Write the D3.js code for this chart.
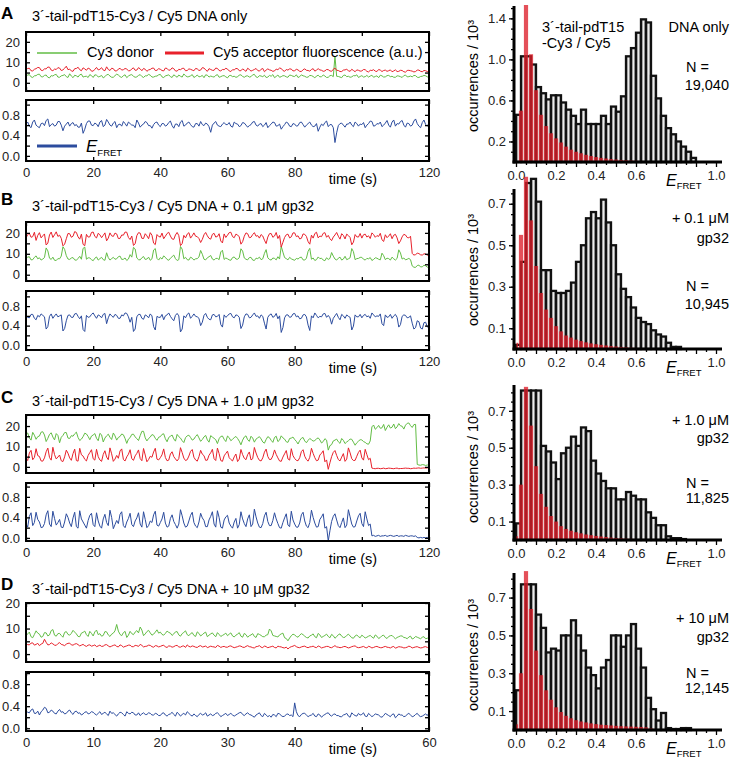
<!DOCTYPE html>
<html><head><meta charset="utf-8">
<script src="https://cdn.jsdelivr.net/npm/d3@7"></script>
<style>body{margin:0;background:#fff}svg{display:block}</style>
</head><body><svg width="731" height="759"></svg>
<script>
// ---------------- DATA ----------------
// Time traces (A,B,C: 0..120 s ; D: 0..60 s), 241 equally spaced samples
const greenA=[3.1,3.8,4.0,2.9,2.6,3.4,3.5,4.1,4.2,3.0,2.9,3.6,3.8,2.7,2.4,3.5,3.3,3.9,4.1,2.8,
2.7,3.4,3.6,4.0,3.0,2.6,4.4,3.3,2.5,3.7,3.4,2.8,3.9,4.2,2.8,3.1,3.2,2.6,4.0,3.5,
2.6,3.9,3.7,2.9,3.1,3.6,2.4,3.0,3.9,4.1,3.3,2.7,2.7,3.5,4.2,3.8,3.0,2.6,3.5,3.9,
2.5,3.3,3.8,4.0,3.2,2.7,2.9,3.6,4.0,3.1,2.6,3.4,3.4,4.1,3.7,2.8,2.8,3.2,3.3,3.9,
4.1,2.9,2.5,3.4,3.6,3.9,3.0,2.6,3.9,3.3,2.7,3.8,3.2,2.8,4.3,3.5,2.9,3.0,3.4,4.0,
2.6,3.1,3.8,2.9,3.1,3.6,2.5,3.9,3.7,2.8,3.3,3.0,2.8,3.6,4.0,2.7,3.0,3.4,3.5,2.9,
2.4,3.5,3.6,3.0,3.2,2.7,2.9,3.8,3.9,3.1,2.7,3.3,3.4,2.8,3.0,3.9,4.1,2.9,2.6,3.5,
3.3,3.0,3.7,2.6,2.8,3.6,3.2,4.0,2.5,3.1,3.8,2.7,3.0,3.5,3.4,2.9,2.7,3.8,3.6,3.2,
3.1,3.9,2.6,3.0,3.9,3.4,3.2,2.7,2.8,3.6,3.5,3.1,2.4,3.3,3.7,2.9,3.0,3.8,3.3,2.6,
2.7,3.5,3.6,3.0,13.0,3.2,3.1,2.8,2.5,3.6,3.8,3.0,3.2,2.7,2.9,3.5,3.4,3.9,2.6,3.1,
3.5,2.8,3.0,3.6,2.8,3.3,3.7,2.7,3.1,3.4,2.5,3.7,3.4,2.8,2.9,3.5,3.6,3.0,3.2,2.7,
2.7,3.4,3.3,3.0,2.6,3.5,3.8,2.9,3.0,3.3,2.9,3.6,3.5,2.7,2.6,3.1,3.2,3.6,3.4,2.9,2.8];
const redA=[6.2,7.0,7.1,5.9,5.8,6.6,6.9,7.5,7.4,6.1,6.0,6.8,6.8,7.7,7.6,6.2,5.9,6.7,6.5,7.4,
7.2,6.0,6.3,7.1,8.1,6.4,6.7,5.8,5.6,6.9,7.0,7.6,6.4,5.9,7.3,6.8,6.1,7.2,6.8,5.7,
5.7,6.6,7.5,6.3,6.6,7.4,6.2,5.9,7.8,6.5,6.0,7.1,6.9,5.8,5.8,6.7,7.1,6.2,6.4,7.0,
6.7,5.9,5.9,6.8,7.3,6.1,6.2,7.4,6.8,5.9,7.0,6.6,5.6,6.3,6.5,7.1,7.2,6.0,6.1,6.9,
6.6,6.0,5.8,7.2,7.0,6.1,6.3,7.3,6.9,5.8,5.7,6.6,6.4,7.0,7.1,5.9,6.0,6.8,6.6,6.2,
5.9,7.0,6.8,6.0,6.2,7.4,7.2,6.3,5.6,6.9,6.5,6.1,6.1,7.2,7.0,6.0,5.8,6.5,6.4,7.1,
6.7,5.8,5.5,6.4,6.3,7.0,6.9,5.9,5.9,6.8,6.2,5.6,7.1,6.5,5.7,6.1,6.5,7.0,6.0,5.7,
6.6,7.0,5.4,6.2,6.8,6.3,6.1,5.6,5.8,6.7,6.4,7.2,7.0,6.0,5.6,6.5,6.2,6.8,6.7,5.8,
5.9,6.6,6.3,5.6,5.5,6.4,6.8,6.1,6.0,5.7,6.5,6.9,5.7,6.2,6.9,6.3,6.1,5.6,5.8,6.5,
6.4,5.8,5.6,6.6,7.2,6.1,6.0,5.5,5.5,6.2,6.3,6.6,5.9,5.6,6.6,6.0,5.4,6.3,6.1,5.7,
5.8,6.5,6.4,5.6,5.3,6.1,6.0,6.4,5.7,5.5,6.5,6.2,5.5,6.0,6.2,5.6,5.9,6.3,5.4,5.8,
6.3,5.5,5.6,6.1,6.0,5.4,5.2,6.0,6.1,5.9,5.7,5.3,5.5,6.2,6.2,5.6,5.4,6.0,5.9,5.5,5.6];
const effA=[0.62,0.66,0.58,0.55,0.66,0.70,0.60,0.57,0.55,0.63,0.64,0.59,0.69,0.72,0.57,0.61,0.63,0.58,0.60,0.67,
0.67,0.60,0.49,0.58,0.62,0.66,0.58,0.63,0.65,0.59,0.61,0.56,0.56,0.64,0.44,0.52,0.63,0.68,0.68,0.60,
0.59,0.64,0.62,0.57,0.66,0.69,0.57,0.60,0.71,0.66,0.60,0.58,0.64,0.67,0.55,0.61,0.62,0.58,0.67,0.63,
0.58,0.66,0.63,0.60,0.60,0.55,0.70,0.64,0.56,0.60,0.62,0.67,0.65,0.59,0.59,0.54,0.61,0.65,0.66,0.60,
0.57,0.63,0.63,0.58,0.60,0.65,0.68,0.59,0.54,0.62,0.62,0.57,0.66,0.69,0.58,0.60,0.64,0.66,0.61,0.57,
0.56,0.63,0.63,0.58,0.67,0.61,0.59,0.64,0.62,0.57,0.46,0.60,0.64,0.67,0.60,0.58,0.57,0.62,0.65,0.61,
0.61,0.65,0.58,0.56,0.66,0.63,0.62,0.57,0.59,0.65,0.64,0.60,0.56,0.59,0.61,0.66,0.67,0.60,0.58,0.62,
0.63,0.57,0.60,0.65,0.55,0.59,0.62,0.66,0.65,0.58,0.59,0.62,0.52,0.57,0.61,0.66,0.64,0.58,0.57,0.63,
0.62,0.58,0.59,0.65,0.66,0.61,0.56,0.60,0.63,0.66,0.60,0.57,0.58,0.63,0.48,0.56,0.62,0.59,0.65,0.68,
0.57,0.61,0.61,0.55,0.26,0.45,0.59,0.63,0.64,0.60,0.56,0.62,0.62,0.66,0.60,0.57,0.66,0.63,0.58,0.62,
0.61,0.65,0.55,0.60,0.63,0.68,0.67,0.58,0.59,0.63,0.62,0.66,0.57,0.60,0.64,0.69,0.60,0.56,0.66,0.70,
0.58,0.63,0.62,0.67,0.69,0.60,0.56,0.64,0.63,0.58,0.60,0.68,0.72,0.63,0.58,0.55,0.65,0.70,0.61,0.58,0.64];

const greenB=[7.8,8.4,8.6,7.1,7.2,8.3,9.0,7.6,8.1,7.0,7.5,8.2,12.8,11.4,7.9,7.3,8.4,6.9,6.8,7.7,
7.6,8.9,13.4,12.1,9.1,7.5,7.3,8.0,8.2,7.1,6.9,7.8,8.8,7.4,12.6,13.2,7.4,8.1,8.0,7.2,
6.7,7.9,8.5,7.0,7.7,8.3,7.2,6.9,10.5,8.2,7.0,7.7,8.3,7.4,7.6,8.6,8.9,7.3,7.4,8.0,
6.8,7.5,9.6,8.4,13.1,12.3,8.0,7.2,7.1,8.1,8.7,7.3,7.5,8.4,6.9,7.6,11.8,12.5,7.8,7.0,
8.2,7.5,9.0,8.3,7.3,6.9,7.9,8.6,9.4,7.7,6.8,7.2,13.5,12.2,7.6,8.3,7.2,7.0,8.4,7.9,
7.0,7.6,7.7,8.5,11.6,9.8,7.4,7.1,8.1,8.6,9.2,7.5,7.0,7.8,7.8,7.2,10.9,11.7,7.3,8.0,
7.6,7.1,6.9,8.2,8.5,7.5,7.4,8.1,12.4,11.3,8.0,7.4,7.1,8.2,8.3,7.0,6.8,7.9,7.7,8.4,
7.2,7.6,10.2,12.0,8.1,7.3,7.0,8.0,7.8,7.1,8.6,7.5,13.6,10.8,8.2,7.7,7.1,8.3,7.6,7.2,
6.9,7.8,7.5,8.2,8.4,7.1,7.0,7.9,11.2,12.6,7.4,8.0,6.8,7.2,8.5,7.7,7.9,7.0,6.7,8.1,
7.3,7.8,10.6,8.9,7.5,7.0,7.9,8.4,7.0,7.5,8.8,7.2,7.6,8.1,12.5,11.0,7.2,7.7,7.8,8.3,
8.3,7.4,7.0,7.8,7.6,8.2,6.8,7.3,8.1,7.9,7.4,7.1,10.3,9.1,7.2,7.9,7.7,7.0,8.4,7.6,
7.0,7.8,11.9,10.4,7.5,8.0,7.1,7.4,7.8,7.2,4.2,3.6,3.5,4.4,4.6,3.7,3.8,4.5,4.3,3.6,3.9];
const redB=[17.5,19.2,19.8,17.9,18.2,20.3,16.4,18.8,20.1,17.6,18.6,19.5,14.2,15.1,19.0,20.4,17.8,19.1,20.5,18.3,
18.9,17.4,13.8,14.6,17.2,19.7,19.6,17.9,18.4,20.6,20.2,18.1,17.0,19.4,14.5,13.9,19.3,18.0,18.1,20.2,
20.4,18.3,17.6,19.8,19.1,17.7,18.8,20.0,16.2,17.5,20.0,18.6,18.3,19.9,19.5,17.3,17.4,19.0,18.9,20.4,
20.3,17.8,16.8,18.5,14.0,14.8,18.7,20.1,19.9,17.4,17.3,19.6,18.6,17.2,20.1,18.9,15.1,14.4,19.2,18.3,
18.0,19.9,17.2,18.4,19.7,20.3,18.5,17.1,16.9,19.0,20.2,18.7,13.9,14.9,18.8,17.6,19.4,20.1,17.5,18.6,
20.0,18.4,18.2,17.3,15.4,16.9,19.1,20.2,18.6,17.4,17.0,19.3,19.8,18.0,18.3,19.6,16.1,15.2,19.5,17.8,
18.9,20.1,20.3,18.2,17.7,19.4,19.0,18.1,14.6,15.8,18.4,20.0,19.6,17.7,17.9,19.2,20.1,18.4,18.7,17.5,
19.2,18.5,16.5,14.9,18.0,19.6,19.7,17.9,18.5,20.2,17.3,18.8,13.2,15.5,17.8,19.1,19.4,17.6,18.1,20.0,
20.0,18.2,18.6,17.1,17.4,19.5,19.3,18.3,15.8,14.6,18.9,17.5,19.7,20.3,17.6,18.5,18.2,19.8,20.1,17.9,
18.8,17.2,16.3,18.0,19.0,20.2,18.4,17.0,19.6,18.8,17.1,19.4,18.7,17.8,14.3,15.6,19.2,18.1,18.0,19.7,
17.5,19.1,19.4,18.0,18.6,17.3,20.0,19.2,17.9,18.7,18.3,19.8,16.7,15.9,19.1,17.7,18.5,19.6,17.2,18.9,
19.3,17.6,14.9,16.2,18.1,19.3,19.0,17.8,17.6,18.4,10.2,9.4,9.6,10.3,10.1,9.5,9.4,10.0,9.9,9.3,9.7];
const effB=[0.60,0.57,0.56,0.63,0.63,0.55,0.52,0.61,0.58,0.64,0.61,0.58,0.33,0.38,0.59,0.64,0.55,0.60,0.64,0.58,
0.60,0.62,0.29,0.34,0.50,0.61,0.62,0.57,0.57,0.64,0.65,0.59,0.54,0.60,0.32,0.28,0.61,0.57,0.58,0.63,
0.66,0.60,0.55,0.62,0.60,0.56,0.63,0.65,0.44,0.56,0.64,0.60,0.57,0.63,0.61,0.55,0.55,0.62,0.60,0.66,
0.65,0.58,0.47,0.57,0.28,0.33,0.58,0.63,0.63,0.55,0.53,0.62,0.60,0.56,0.64,0.60,0.38,0.31,0.59,0.57,
0.57,0.63,0.52,0.60,0.62,0.66,0.59,0.54,0.50,0.61,0.65,0.60,0.27,0.33,0.60,0.56,0.63,0.66,0.55,0.59,
0.64,0.59,0.58,0.55,0.40,0.47,0.61,0.65,0.57,0.53,0.52,0.62,0.63,0.58,0.59,0.63,0.42,0.37,0.62,0.57,
0.60,0.64,0.65,0.58,0.56,0.62,0.61,0.57,0.34,0.41,0.58,0.64,0.63,0.56,0.57,0.62,0.66,0.59,0.60,0.55,
0.62,0.59,0.45,0.33,0.57,0.62,0.64,0.57,0.59,0.65,0.54,0.60,0.26,0.36,0.56,0.62,0.62,0.57,0.58,0.64,
0.65,0.58,0.60,0.54,0.55,0.62,0.63,0.58,0.41,0.30,0.60,0.56,0.66,0.61,0.56,0.59,0.58,0.64,0.65,0.57,
0.61,0.56,0.43,0.55,0.60,0.65,0.57,0.52,0.63,0.60,0.55,0.62,0.59,0.57,0.31,0.39,0.62,0.58,0.58,0.63,
0.56,0.61,0.63,0.58,0.60,0.55,0.66,0.62,0.58,0.60,0.59,0.64,0.44,0.40,0.62,0.57,0.58,0.63,0.55,0.60,
0.63,0.57,0.37,0.42,0.59,0.62,0.61,0.56,0.57,0.60,0.45,0.33,0.36,0.50,0.48,0.35,0.33,0.46,0.47,0.37,0.39];

const greenC=[15.8,16.6,14.2,13.1,16.9,15.5,13.5,14.8,15.1,17.0,17.2,15.6,12.4,14.0,15.9,16.7,14.6,13.2,16.3,15.4,
11.8,14.5,15.4,16.8,16.8,14.1,13.9,15.3,15.0,16.2,17.0,14.4,12.9,13.6,14.8,16.5,16.1,14.9,13.3,15.1,
15.6,16.3,14.0,12.8,16.4,15.7,12.2,14.1,15.2,16.0,14.5,13.4,16.6,15.2,13.1,14.4,14.9,16.1,15.7,13.9,
11.5,13.6,14.3,15.9,16.0,14.7,13.8,12.9,15.3,17.4,17.4,14.2,12.7,13.9,14.6,15.8,15.5,14.0,13.0,14.5,
14.8,15.9,16.2,13.8,12.3,14.4,15.0,15.6,13.7,12.6,15.9,14.8,14.1,12.8,11.9,14.3,15.2,15.5,14.4,13.1,
13.6,14.9,15.8,14.2,12.5,13.4,14.7,15.4,13.2,12.1,15.3,14.6,14.0,13.3,11.4,13.8,14.9,15.1,13.5,12.4,
15.1,14.3,12.8,13.5,14.3,14.9,13.9,12.6,10.8,13.1,14.6,15.2,13.3,12.5,15.0,14.1,12.1,13.6,14.2,14.8,
13.7,12.2,11.6,13.4,14.8,14.3,13.0,12.0,14.4,15.0,12.4,13.1,15.2,14.2,13.6,12.3,12.0,13.9,14.1,14.6,
13.4,12.5,11.2,12.9,14.0,14.4,12.7,11.8,13.0,13.9,13.3,12.6,12.9,13.7,14.2,13.2,11.7,12.4,13.8,13.1,
8.2,10.4,10.9,12.7,13.1,13.6,12.3,11.5,13.9,13.0,11.4,12.2,12.8,13.6,13.5,12.1,10.6,11.8,12.6,13.3,
13.2,12.4,12.0,11.3,11.1,12.7,19.6,20.5,18.4,19.2,20.3,18.9,19.1,20.8,17.8,19.4,20.6,19.0,19.4,21.0,
18.7,19.6,21.2,20.1,19.9,18.5,20.4,21.3,21.5,20.2,19.3,20.7,20.8,1.2,0.9,0.8,1.1,1.0,0.7,0.9,1.0];
const redC=[4.2,3.1,6.8,8.1,3.5,4.6,8.9,5.5,5.1,2.9,2.8,4.4,7.4,9.2,4.6,3.3,9.6,6.0,3.9,4.8,
5.8,3.0,2.6,4.9,8.2,6.7,4.4,3.2,6.5,8.7,3.1,2.8,9.1,5.9,5.3,3.7,2.9,5.6,7.0,8.4,
4.0,3.3,8.6,5.0,3.4,2.7,6.1,7.9,4.8,3.5,9.3,6.4,2.7,3.8,5.6,4.2,7.8,8.8,3.6,2.9,
4.9,6.2,8.4,4.0,3.2,5.4,6.6,8.3,4.1,3.0,9.0,5.8,2.5,3.6,5.2,4.7,7.3,9.1,3.8,3.4,
4.5,5.9,8.8,4.6,3.0,3.3,6.3,7.4,5.0,3.9,2.9,4.1,9.4,7.0,4.3,3.1,3.5,5.3,7.6,8.5,
4.7,3.4,2.8,5.0,8.1,6.2,5.5,3.2,3.3,5.7,6.9,8.6,4.0,3.1,9.2,6.5,3.1,2.7,5.4,6.6,
7.7,4.5,3.6,2.9,4.9,6.3,2.6,3.8,8.5,6.0,4.2,3.5,6.0,7.3,3.4,4.0,9.5,6.8,4.6,3.2,
2.9,4.4,7.2,8.7,5.1,3.6,3.7,5.4,8.3,6.1,4.4,2.9,2.7,4.8,6.4,8.0,3.9,3.3,8.9,5.5,
4.1,3.2,3.0,4.5,7.5,8.4,5.2,3.6,2.8,4.7,9.1,6.6,4.5,3.0,3.3,5.8,6.7,7.9,2.5,3.4,
-1.2,2.0,5.0,7.1,8.0,5.6,3.6,2.9,4.8,6.5,2.7,3.8,9.3,6.9,4.0,3.1,3.2,5.2,7.1,8.2,
4.4,3.3,8.6,6.0,3.5,4.2,-0.6,-0.8,-0.9,-0.7,-0.7,-0.9,-0.8,-0.6,-0.9,-0.8,-0.6,-0.7,-0.8,-0.9,
-0.7,-0.6,-0.9,-0.8,-0.8,-0.7,-0.6,-0.7,-0.7,-0.9,-0.8,-0.6,-0.7,-0.6,-0.5,-0.7,-0.6,-0.5,-0.6,-0.5,-0.5];
const effC=[0.28,0.21,0.42,0.49,0.24,0.30,0.50,0.36,0.31,0.20,0.21,0.28,0.45,0.53,0.27,0.22,0.52,0.38,0.25,0.30,
0.36,0.21,0.20,0.31,0.47,0.40,0.29,0.22,0.39,0.50,0.22,0.19,0.53,0.37,0.31,0.25,0.19,0.34,0.44,0.48,
0.26,0.22,0.49,0.33,0.23,0.19,0.37,0.46,0.30,0.24,0.54,0.40,0.18,0.26,0.34,0.28,0.46,0.51,0.24,0.20,
0.31,0.38,0.48,0.26,0.22,0.33,0.39,0.49,0.27,0.21,0.51,0.36,0.20,0.24,0.33,0.30,0.45,0.52,0.25,0.23,
0.30,0.37,0.50,0.29,0.21,0.23,0.38,0.45,0.32,0.26,0.19,0.27,0.55,0.43,0.29,0.21,0.23,0.33,0.44,0.50,
0.30,0.23,0.20,0.31,0.48,0.39,0.34,0.22,0.22,0.35,0.42,0.51,0.27,0.21,0.53,0.40,0.21,0.19,0.35,0.41,
0.44,0.29,0.23,0.19,0.31,0.38,0.19,0.26,0.51,0.37,0.28,0.22,0.37,0.45,0.22,0.27,0.56,0.41,0.29,0.21,
0.20,0.28,0.43,0.50,0.32,0.24,0.24,0.34,0.49,0.37,0.28,0.20,0.19,0.30,0.39,0.47,0.25,0.22,0.52,0.35,
0.27,0.21,0.21,0.29,0.45,0.50,0.33,0.23,0.20,0.30,0.54,0.40,0.29,0.21,0.22,0.36,0.41,0.47,0.19,0.22,
-0.06,0.14,0.32,0.42,0.47,0.35,0.24,0.20,0.30,0.39,0.20,0.25,0.55,0.41,0.27,0.21,0.22,0.33,0.43,0.48,
0.28,0.22,0.51,0.37,0.24,0.27,0.04,0.05,0.03,0.04,0.05,0.03,0.04,0.04,0.05,0.03,0.04,0.05,0.04,0.03,
0.04,0.05,0.03,0.04,0.04,0.03,0.05,0.04,0.03,0.04,0.04,0.03,0.04,0.01,0.00,0.01,0.00,0.01,0.00,0.01,0.00];

const greenD=[7.2,7.9,8.6,6.8,6.4,7.7,9.1,8.2,7.8,6.6,6.9,8.4,8.3,7.1,7.5,9.2,9.6,7.4,7.0,8.0,
8.1,7.3,6.6,8.5,8.8,7.7,7.4,8.1,9.3,8.6,7.9,6.9,6.8,8.2,8.5,9.0,7.6,6.9,8.9,8.1,
7.1,8.7,9.4,7.6,8.0,7.0,7.3,8.8,8.7,7.5,6.9,7.8,8.2,9.1,11.6,9.0,7.7,7.2,8.4,8.9,
6.5,7.4,8.9,8.0,7.6,8.6,9.2,8.3,10.6,9.4,7.2,7.9,8.8,9.3,8.3,7.4,7.8,8.6,9.5,8.2,
8.6,7.7,7.4,8.1,9.0,8.5,8.2,7.3,7.9,8.7,8.8,7.5,7.0,8.0,8.5,9.1,7.6,7.2,8.0,8.4,
7.3,6.9,8.7,8.1,7.1,7.6,8.2,8.6,6.8,7.4,7.9,8.3,7.4,6.8,8.4,7.7,6.9,7.3,7.7,8.2,
7.2,7.8,8.3,7.1,6.7,7.4,7.8,8.4,7.0,6.6,8.1,7.6,6.6,7.2,7.5,8.0,6.9,6.5,8.0,7.7,
7.3,6.8,6.8,7.4,7.6,9.8,9.1,7.3,7.1,6.9,6.7,7.5,7.9,8.2,6.4,6.1,5.2,6.3,7.2,7.8,
7.5,6.9,6.6,7.4,8.0,7.6,7.0,6.5,6.3,7.1,7.4,7.9,6.8,6.4,8.1,7.5,6.5,6.9,7.3,7.8,
6.9,6.4,7.7,7.2,6.2,6.8,7.6,7.9,7.0,6.5,6.6,7.3,7.8,7.1,6.4,6.2,7.1,7.5,6.8,6.4,
7.4,6.9,6.3,6.6,7.0,7.3,6.7,6.2,7.5,7.0,6.1,6.5,7.2,7.4,6.5,6.1,6.9,7.2,7.3,6.6,
6.0,6.5,6.8,7.1,7.1,6.5,6.4,6.0,6.7,7.0,5.9,6.2,6.9,6.6,6.3,6.0,6.6,6.8,6.0,6.2,6.5];
const redD=[4.1,3.7,3.6,4.3,4.4,3.5,3.8,4.2,3.3,3.9,4.2,5.8,4.6,3.6,3.7,4.4,4.0,3.5,3.4,4.1,
4.5,3.8,3.6,3.3,3.9,4.2,4.3,3.6,3.5,3.9,4.1,3.7,3.2,3.5,3.8,3.3,3.0,3.5,3.6,3.1,
3.3,3.6,2.9,3.2,3.5,3.0,3.1,3.6,3.7,3.2,2.8,3.1,3.4,3.6,3.0,2.8,3.6,3.3,2.7,3.0,
3.2,3.5,3.5,2.9,2.9,3.4,3.3,3.0,3.8,3.4,2.8,3.0,3.1,3.5,3.4,2.9,2.7,3.3,3.2,2.8,
3.0,3.3,3.5,2.8,2.6,3.2,3.1,2.7,2.9,3.3,3.4,2.8,2.7,3.1,3.2,2.6,3.6,3.0,2.8,3.2,
3.0,2.7,2.6,3.1,3.3,2.8,2.9,3.2,2.5,2.8,3.1,2.9,2.8,2.6,3.4,3.1,2.6,2.9,3.0,2.7,
2.7,3.1,3.2,2.8,2.5,2.7,2.9,3.2,3.1,2.7,2.6,3.0,3.3,2.9,2.8,2.5,2.4,2.9,3.0,3.3,
2.7,2.5,3.2,2.9,2.5,2.7,2.9,3.1,2.6,2.4,3.1,2.9,2.8,2.5,2.4,2.7,2.0,2.6,2.9,3.1,
3.4,2.9,2.6,2.5,2.8,3.0,3.1,2.7,2.5,2.8,2.9,3.1,2.7,2.5,3.2,2.9,2.4,2.6,2.8,3.0,
3.0,2.6,2.5,2.9,3.3,2.8,2.7,2.5,2.6,2.9,3.0,2.7,2.4,2.6,2.9,3.1,3.2,2.7,2.5,2.6,
2.8,3.0,2.6,2.4,3.1,2.8,2.4,2.6,2.9,3.0,2.7,2.5,2.5,2.8,3.0,2.7,2.6,2.4,2.8,3.0,
2.3,2.6,2.9,2.8,2.7,2.4,2.5,2.7,3.1,2.9,2.4,2.6,2.8,2.9,2.6,2.4,2.5,2.8,2.9,2.6,2.7];
const effD=[0.32,0.29,0.28,0.33,0.35,0.27,0.27,0.31,0.24,0.30,0.33,0.38,0.36,0.28,0.29,0.33,0.31,0.27,0.26,0.31,
0.34,0.29,0.30,0.26,0.27,0.31,0.33,0.28,0.25,0.30,0.31,0.27,0.28,0.24,0.26,0.29,0.30,0.26,0.27,0.30,
0.29,0.26,0.24,0.27,0.30,0.25,0.27,0.29,0.26,0.23,0.31,0.27,0.28,0.25,0.22,0.26,0.29,0.28,0.25,0.22,
0.30,0.27,0.26,0.29,0.28,0.24,0.24,0.28,0.23,0.26,0.28,0.25,0.25,0.28,0.27,0.24,0.24,0.27,0.26,0.23,
0.23,0.27,0.28,0.24,0.22,0.25,0.26,0.29,0.25,0.22,0.29,0.26,0.22,0.25,0.27,0.24,0.30,0.27,0.24,0.22,
0.26,0.23,0.21,0.25,0.27,0.24,0.25,0.28,0.22,0.24,0.26,0.23,0.24,0.27,0.28,0.25,0.21,0.23,0.25,0.27,
0.23,0.25,0.27,0.24,0.22,0.24,0.26,0.28,0.29,0.25,0.23,0.26,0.28,0.25,0.24,0.22,0.20,0.24,0.26,0.28,
0.23,0.21,0.27,0.24,0.21,0.23,0.20,0.25,0.24,0.21,0.27,0.26,0.23,0.21,0.22,0.25,0.26,0.23,0.24,0.21,
0.46,0.30,0.23,0.21,0.25,0.27,0.27,0.24,0.21,0.23,0.24,0.27,0.22,0.21,0.26,0.24,0.20,0.23,0.25,0.27,
0.28,0.24,0.22,0.25,0.26,0.23,0.23,0.21,0.21,0.24,0.25,0.27,0.22,0.20,0.28,0.25,0.23,0.22,0.27,0.24,
0.25,0.28,0.22,0.21,0.27,0.24,0.21,0.23,0.26,0.25,0.24,0.21,0.20,0.23,0.27,0.25,0.23,0.21,0.25,0.26,
0.19,0.22,0.26,0.24,0.24,0.21,0.22,0.25,0.27,0.24,0.21,0.22,0.25,0.27,0.23,0.21,0.22,0.24,0.26,0.23,0.28];

// E_FRET histograms (x 10^3 occurrences), bins of width 0.025 starting at 0
const histA=[0.46,1.03,1.03,0.95,0.73,0.67,0.61,0.65,0.65,0.58,0.51,0.45,0.37,0.51,0.37,0.37,0.37,0.45,0.37,0.54,0.49,0.64,1.03,1.11,1.26,1.39,1.36,0.84,0.62,0.45,0.33,0.27,0.20,0.15,0.10,0.04];
const histB=[0.02,0.42,0.80,0.82,0.71,0.38,0.38,0.28,0.27,0.27,0.28,0.32,0.42,0.50,0.63,0.66,0.63,0.72,0.61,0.50,0.36,0.29,0.25,0.20,0.15,0.13,0.12,0.09,0.07,0.06,0.03,0.01,0.01];
const histC=[0.09,0.81,0.81,0.81,0.81,0.51,0.48,0.42,0.33,0.47,0.50,0.56,0.51,0.61,0.59,0.43,0.36,0.32,0.28,0.28,0.22,0.22,0.26,0.24,0.22,0.22,0.15,0.12,0.08,0.08,0.02,0.01,0.01,0.005];
const histD=[0.21,0.77,0.77,0.77,0.61,0.54,0.41,0.43,0.42,0.50,0.50,0.58,0.50,0.42,0.33,0.29,0.22,0.33,0.37,0.50,0.50,0.44,0.50,0.56,0.43,0.33,0.17,0.11,0.05,0.09,0.01,0.005,0.005,0.01,0.01];
// Donor-only (red) histograms, bins centred at 0, 0.025, 0.05, ...
const redHistA=[0.0,0.50,1.53,1.05,0.70,0.46,0.35,0.28,0.23,0.19,0.15,0.12,0.10,0.085,0.07,0.058,0.048,0.04,0.034,0.028,0.024,0.02,0.017,0.014,0.012,0.01,0.008,0.006,0.005];
const redHistB=[0.03,0.55,0.83,0.62,0.40,0.27,0.19,0.15,0.11,0.085,0.065,0.055,0.045,0.038,0.032,0.027,0.023,0.02,0.017,0.014,0.012,0.01,0.008,0.006,0.005];
const redHistC=[0.02,0.30,0.83,0.62,0.40,0.25,0.18,0.13,0.10,0.075,0.06,0.05,0.042,0.036,0.03,0.026,0.022,0.019,0.016,0.013,0.011,0.009,0.007,0.006,0.005,0.004];
const redHistD=[0.03,0.30,0.84,0.64,0.42,0.29,0.21,0.16,0.12,0.095,0.075,0.062,0.052,0.045,0.04,0.035,0.031,0.028,0.026,0.024,0.022,0.02,0.019,0.018,0.017,0.016,0.014,0.008];

// tick labels / texts
const histTicksA=[0.2,0.6,1.0,1.4];
const histTicksBCD=[0.1,0.3,0.5,0.7];
const histXTickLabels=[0.0,0.2,0.4,0.6,1.0];
const titles=['3´-tail-pdT15-Cy3 / Cy5 DNA only','3´-tail-pdT15-Cy3 / Cy5 DNA + 0.1 μM gp32','3´-tail-pdT15-Cy3 / Cy5 DNA + 1.0 μM gp32','3´-tail-pdT15-Cy3 / Cy5 DNA + 10 μM gp32'];
const letters=['A','B','C','D'];
const conc=[['DNA only'],['+ 0.1 μM','gp32'],['+ 1.0 μM','gp32'],['+ 10 μM','gp32']];
const counts=['19,040','10,945','11,825','12,145'];
const durations=[120,120,120,60];

// ---------------- DRAWING ----------------
const FONT='Arial, "Liberation Sans", Helvetica, sans-serif';
const GREEN='#62bd45', RED='#e8212b', BLUE='#2c4c9e';
const svg=d3.select('svg').style('font-family',FONT);
const defs=svg.append('defs');
const gr=defs.append('linearGradient').attr('id','gray').attr('x1',0).attr('x2',1).attr('y1',0).attr('y2',0);
[['0%','#7a7a7a'],['50%','#ececec'],['100%','#7a7a7a']].forEach(s=>gr.append('stop').attr('offset',s[0]).attr('stop-color',s[1]));

const P=[
 {tb:21,lb:19,top:[32,91],bot:[100,161],fDom:[-4,24.8],eDom:[-0.1,1.09],g:greenA,r:redA,e:effA,
  hAxis:162,hTop:5,hMax:1.53,hAxisTop:6,hist:histA,hred:redHistA,hTicks:histTicksA,hMinor:0.1,ylab:76,
  concY:[32],nY:[72,90]},
 {tb:211,lb:205,top:[222,281],bot:[291,350],fDom:[-3,25.2],eDom:[-0.1,1.11],g:greenB,r:redB,e:effB,
  hAxis:349,hTop:183,hMax:0.8,hAxisTop:189,hist:histB,hred:redHistB,hTicks:histTicksBCD,hMinor:0.05,ylab:270,
  concY:[223,243],nY:[291,309]},
 {tb:406,lb:403,top:[415,473],bot:[483,541],fDom:[-3,25.4],eDom:[-0.06,1.07],g:greenC,r:redC,e:effC,
  hAxis:540,hTop:385,hMax:0.84,hAxisTop:385,hist:histC,hred:redHistC,hTicks:histTicksBCD,hMinor:0.05,ylab:467,
  concY:[425,443],nY:[488,503]},
 {tb:594,lb:590,top:[603,662],bot:[672,731],fDom:[-3.1,20],eDom:[-0.05,1.02],g:greenD,r:redD,e:effD,
  hAxis:730,hTop:573,hMax:0.83,hAxisTop:573,hist:histD,hred:redHistD,hTicks:histTicksBCD,hMinor:0.05,ylab:655,
  concY:[623,642],nY:[678,693]}
];

function noDomain(sel){sel.select('.domain').remove();sel.selectAll('.tick line').attr('stroke','#000').attr('stroke-width',1.3);}

P.forEach((p,k)=>{
  const g=svg.append('g');
  const tMax=durations[k];
  g.append('text').attr('x',1).attr('y',p.lb).attr('font-size',17).attr('font-weight','bold').text(letters[k]);
  g.append('text').attr('x',32).attr('y',p.tb).attr('font-size',14.5).text(titles[k]);

  const x=d3.scaleLinear().domain([0,tMax]).range([26,429]);
  const xt=d3.range(0,tMax+0.1,tMax/6);
  const yF=d3.scaleLinear().domain(p.fDom).range([p.top[1],p.top[0]]);
  const yE=d3.scaleLinear().domain(p.eDom).range([p.bot[1],p.bot[0]]);
  ['t','b'].forEach((nm,j)=>{
    const bx=j?p.bot:p.top;
    defs.append('clipPath').attr('id','cl'+k+nm).append('rect').attr('x',27).attr('y',bx[0]+1).attr('width',401).attr('height',bx[1]-bx[0]-2);
  });
  const dtG=tMax/(p.g.length-1), dtR=tMax/(p.r.length-1), dtE=tMax/(p.e.length-1);
  g.append('path').attr('d',d3.line().x((d,i)=>x(i*dtG)).y(d=>yF(d))(p.g)).attr('fill','none').attr('stroke',GREEN).attr('stroke-width',1).attr('clip-path',`url(#cl${k}t)`);
  g.append('path').attr('d',d3.line().x((d,i)=>x(i*dtR)).y(d=>yF(d))(p.r)).attr('fill','none').attr('stroke',RED).attr('stroke-width',1).attr('clip-path',`url(#cl${k}t)`);
  g.append('path').attr('d',d3.line().x((d,i)=>x(i*dtE)).y(d=>yE(d))(p.e)).attr('fill','none').attr('stroke',BLUE).attr('stroke-width',1).attr('clip-path',`url(#cl${k}b)`);

  [[p.top,yF,[0,5,10,15,20],d=>d%10===0?d:''],[p.bot,yE,[0,0.2,0.4,0.6,0.8,1.0],d=>(Math.round(d*10)%4===0)?d.toFixed(1):'']].forEach(([bx,ys,yt,fmt],j)=>{
    g.append('g').attr('transform',`translate(0,${bx[0]})`).call(d3.axisTop(x).tickValues(xt).tickSize(-4).tickFormat('')).call(noDomain);
    const bAx=g.append('g').attr('transform',`translate(0,${bx[1]})`).call(d3.axisBottom(x).tickValues(xt).tickSize(-4).tickPadding(7)
      .tickFormat(j===1?(d=>Math.abs(d-tMax*5/6)<1e-6?'':d):'')).call(noDomain);
    bAx.selectAll('text').attr('font-size',13).attr('fill','#222').attr('font-family',FONT);
    const lAx=g.append('g').attr('transform','translate(26,0)').call(d3.axisLeft(ys).tickValues(yt).tickSize(-4).tickPadding(6).tickFormat(fmt)).call(noDomain);
    lAx.selectAll('text').attr('font-size',13).attr('fill','#222').attr('font-family',FONT);
    g.append('g').attr('transform','translate(429,0)').call(d3.axisRight(ys).tickValues(yt).tickSize(-4).tickFormat('')).call(noDomain);
    g.append('rect').attr('x',26).attr('y',bx[0]).attr('width',403).attr('height',bx[1]-bx[0]).attr('fill','none').attr('stroke','#000').attr('stroke-width',2);
  });
  g.append('text').attr('x',353).attr('y',p.bot[1]+23).attr('text-anchor','middle').attr('font-size',14.5).text('time (s)');

  // ---------- histogram ----------
  const hx=d3.scaleLinear().domain([0,1]).range([516,716]);
  const hy=d3.scaleLinear().domain([0,p.hMax]).range([p.hAxis,p.hTop]);
  const bw=0.025, bwPx=hx(bw)-hx(0);
  const hg=svg.append('g');
  hg.selectAll('rect.bk').data(p.hist).join('rect').attr('class','bk')
    .attr('x',(d,i)=>hx(i*bw)).attr('width',bwPx).attr('y',d=>hy(d)).attr('height',d=>p.hAxis-hy(d))
    .attr('fill','url(#gray)').attr('stroke','#111').attr('stroke-width',2.3);
  hg.selectAll('rect.rd').data(p.hred).join('rect').attr('class','rd')
    .attr('x',(d,i)=>Math.max(hx(0)+0.5,hx(i*bw-bw/2)+0.4))
    .attr('width',(d,i)=>hx(i*bw+bw/2)-0.4-Math.max(hx(0)+0.5,hx(i*bw-bw/2)+0.4))
    .attr('y',d=>hy(d)).attr('height',d=>Math.max(0,p.hAxis-hy(d)))
    .attr('fill','#dc1f2a').attr('fill-opacity',0.78);
  const ymin=d3.range(p.hMinor,p.hMax-1e-9,p.hMinor);
  hg.append('g').attr('transform','translate(514,0)').call(d3.axisLeft(hy).tickValues(ymin).tickSize(3).tickFormat('')).call(noDomain);
  const yAx=hg.append('g').attr('transform','translate(514,0)').call(d3.axisLeft(hy).tickValues(p.hTicks).tickSize(5).tickPadding(3).tickFormat(d3.format('.1f'))).call(noDomain);
  yAx.selectAll('text').attr('font-size',13).attr('fill','#222').attr('font-family',FONT);
  hg.append('line').attr('x1',514).attr('x2',514).attr('y1',p.hAxis+1.5).attr('y2',p.hAxisTop).attr('stroke','#000').attr('stroke-width',3);
  hg.append('g').attr('transform',`translate(0,${p.hAxis})`).call(d3.axisBottom(hx).tickValues(d3.range(0.05,1.0,0.1)).tickSize(3).tickFormat('')).call(noDomain);
  const xAx=hg.append('g').attr('transform',`translate(0,${p.hAxis})`).call(d3.axisBottom(hx).tickValues(d3.range(0,1.01,0.1)).tickSize(5).tickPadding(4)
    .tickFormat(d=>histXTickLabels.some(v=>Math.abs(v-d)<1e-6)?d.toFixed(1):'')).call(noDomain);
  xAx.selectAll('text').attr('font-size',13).attr('fill','#222').attr('font-family',FONT);
  hg.append('line').attr('x1',512.5).attr('x2',722).attr('y1',p.hAxis).attr('y2',p.hAxis).attr('stroke','#000').attr('stroke-width',3);
  const el=hg.append('text').attr('x',666).attr('y',p.hAxis+24).attr('font-size',16);
  el.append('tspan').attr('font-style','italic').text('E');
  el.append('tspan').attr('font-size',9.5).attr('dy',3).text('FRET');
  hg.append('text').attr('transform',`translate(478,${p.ylab}) rotate(-90)`).attr('text-anchor','middle').attr('font-size',14.5).text('occurrences / 10³');
  if(k===0){
    hg.append('text').attr('x',542).attr('y',32).attr('font-size',14.5).text('3´-tail-pdT15');
    hg.append('text').attr('x',542).attr('y',48).attr('font-size',14.5).text('-Cy3 / Cy5');
  }
  conc[k].forEach((t,i)=>hg.append('text').attr('x',729).attr('y',p.concY[i]).attr('text-anchor','end').attr('font-size',14.5).text(t));
  hg.append('text').attr('x',686).attr('y',p.nY[0]).attr('font-size',14.5).text('N =');
  hg.append('text').attr('x',729).attr('y',p.nY[1]).attr('text-anchor','end').attr('font-size',14.5).text(counts[k]);
});

// legends (panel A)
const lg=svg.append('g');
lg.append('line').attr('x1',37).attr('x2',77).attr('y1',53).attr('y2',53).attr('stroke',GREEN).attr('stroke-width',1.5);
lg.append('text').attr('x',87).attr('y',57).attr('font-size',14.5).text('Cy3 donor');
lg.append('line').attr('x1',165).attr('x2',204).attr('y1',53).attr('y2',53).attr('stroke',RED).attr('stroke-width',3);
lg.append('text').attr('x',213).attr('y',57).attr('font-size',14.5).text('Cy5 acceptor fluorescence (a.u.)');
lg.append('line').attr('x1',37).attr('x2',77).attr('y1',146).attr('y2',146).attr('stroke',BLUE).attr('stroke-width',3);
const le=lg.append('text').attr('x',86).attr('y',152).attr('font-size',17);
le.append('tspan').attr('font-style','italic').text('E');
le.append('tspan').attr('font-size',9.5).attr('dy',4).text('FRET');
</script></body></html>
